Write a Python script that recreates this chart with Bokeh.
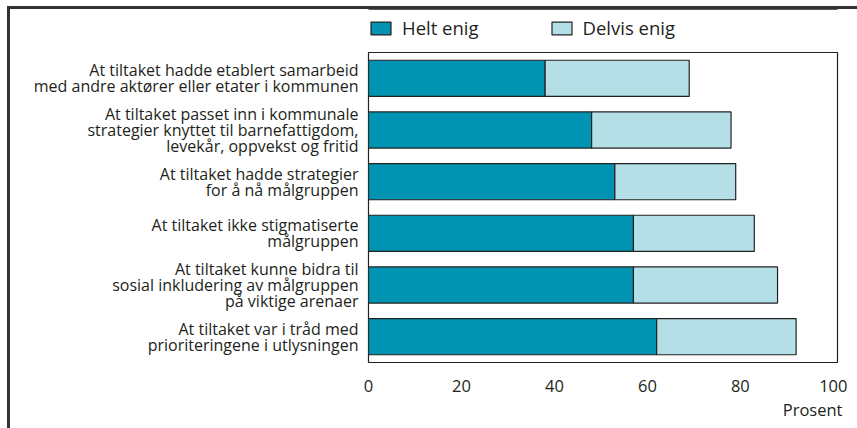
from bokeh.plotting import figure
from bokeh.models import FactorRange, Range1d, Legend, LegendItem, Title, FixedTicker
from bokeh.layouts import column
from bokeh.embed import file_html
from bokeh.resources import INLINE

categories = [
    "At tiltaket hadde etablert samarbeid\nmed andre aktører eller etater i kommunen",
    "At tiltaket passet inn i kommunale\nstrategier knyttet til barnefattigdom,\nlevekår, oppvekst og fritid",
    "At tiltaket hadde strategier\nfor å nå målgruppen",
    "At tiltaket ikke stigmatiserte\nmålgruppen",
    "At tiltaket kunne bidra til\nsosial inkludering av målgruppen\npå viktige arenaer",
    "At tiltaket var i tråd med\nprioriteringene i utlysningen",
]
helt_enig = [38, 48, 53, 57, 57, 62]
delvis_enig = [31, 30, 26, 26, 31, 30]
series_names = ["Helt enig", "Delvis enig"]
x_ticks = [0, 20, 40, 60, 80, 100]

FONT = "Open Sans"
TXT = "#231f20"
C1 = "#0093b2"
C2 = "#b5dfe7"
EDGE = "#222222"

# ---- legend strip (top); its frame is aligned with the chart frame by the column ----
top = figure(width=847, height=42, x_range=Range1d(0, 1), y_range=Range1d(0, 1),
             output_backend="svg", toolbar_location=None,
             min_border_left=0, min_border_right=0, min_border_top=0, min_border_bottom=0)
top.axis.visible = False
top.grid.visible = False
top.outline_line_color = None
# legend-only proxies, placed outside the strip's range so only their legend swatches show
lr = [top.hbar(y=[5], left=[0], right=[1], height=1, fill_color=c, line_color=EDGE, line_width=1.2)
      for c in (C1, C2)]
legend = Legend(items=[LegendItem(label=n, renderers=[rr]) for n, rr in zip(series_names, lr)],
                orientation="horizontal", location=(0, 11),
                glyph_width=25, glyph_height=16, label_height=16, label_standoff=9, spacing=70,
                label_text_font=FONT, label_text_font_size="18.5px", label_text_color=TXT,
                padding=0, margin=0, border_line_color=None, background_fill_alpha=0)
top.add_layout(legend)

# ---- main chart ----
p = figure(
    width=847, height=377,
    y_range=FactorRange(factors=list(reversed(categories)), range_padding=0),
    x_range=Range1d(0, 100.9),
    output_backend="svg", toolbar_location=None,
    min_border_left=358, min_border_right=20, min_border_top=1, min_border_bottom=66,
)

data = dict(cat=categories, helt=helt_enig, delvis=delvis_enig)
p.hbar_stack(["helt", "delvis"], y="cat", height=0.7, source=data,
             color=[C1, C2], line_color=EDGE, line_width=1.2)

p.outline_line_color = EDGE
p.outline_line_width = 1.2
p.xgrid.grid_line_color = None
p.ygrid.grid_line_color = None

p.xaxis.ticker = FixedTicker(ticks=x_ticks)
p.xaxis.axis_line_color = None
p.xaxis.major_tick_line_color = None
p.xaxis.minor_tick_line_color = None
p.xaxis.major_label_text_font = FONT
p.xaxis.major_label_text_font_size = "16.5px"
p.xaxis.major_label_text_color = TXT
p.xaxis.major_label_standoff = 11

p.yaxis.axis_line_color = None
p.yaxis.major_tick_line_color = None
p.yaxis.major_tick_out = 0
p.yaxis.major_label_text_font = FONT
p.yaxis.major_label_text_font_size = "16px"
p.yaxis.major_label_text_line_height = 0.72
p.yaxis.major_label_text_color = TXT
p.yaxis.major_label_standoff = 10

p.add_layout(Title(text="Prosent", align="right", text_font=FONT, text_font_size="16.5px",
                   text_color=TXT, text_font_style="normal", offset=-5, standoff=3), "below")

page = column(top, p, spacing=0,
              styles={"border-left": "3px solid #333333", "border-top": "3px solid #333333",
                      "margin-left": "7px", "margin-top": "6px"})

open("out.html", "w").write(file_html(page, INLINE))
